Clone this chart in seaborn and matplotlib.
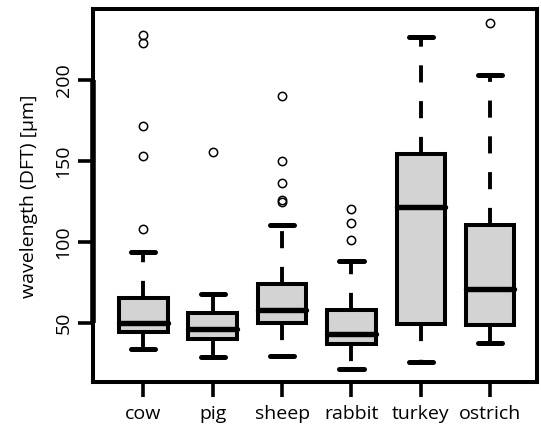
import pandas as pd
import seaborn as sns
import matplotlib
matplotlib.use("Agg")
import matplotlib.pyplot as plt

# values (R style boxplot)
species = ["cow", "pig", "sheep", "rabbit", "turkey", "ostrich"]
whisker_lo = [33.6, 29.0, 29.4, 21.6, 25.7, 37.5]
q1 = [44.4, 39.7, 50.0, 36.8, 49.2, 48.4]
median = [50.0, 46.3, 57.8, 43.2, 121.3, 70.8]
q3 = [65.5, 56.2, 74.2, 57.8, 154.1, 110.4]
whisker_hi = [93.7, 67.6, 110.3, 88.3, 226.4, 202.9]
outliers = [
    [107.7, 153.2, 171.8, 223.1, 227.8],
    [155.7],
    [124.5, 126.0, 136.5, 150.1, 190.3],
    [101.1, 111.4, 120.1],
    [],
    [235.4],
]
yticks = [50, 100, 150, 200]


## build a sample per species whose quartiles / whiskers give the stats above
## (n = 4k+1 so q1, median, q3 fall exactly on sample points)
rows = []
for i, sp in enumerate(species):
    k = len(outliers[i]) + 1
    vals = ([whisker_lo[i]] + [q1[i]] * k + [median[i]] * (2 * k - 1)
            + [q3[i]] * (k - len(outliers[i])) + [whisker_hi[i]] + outliers[i])
    for v in vals:
        rows.append({"species": sp, "wavelength": v})
df = pd.DataFrame(rows)

sns.set_style("ticks")
plt.rcParams["font.family"] = ["Open Sans", "DejaVu Sans"]

fig = plt.figure(figsize=(5.41, 4.30), dpi=100)
ax = fig.add_axes([0.1713, 0.1109, 0.8207, 0.8675])

sns.boxplot(data=df, x="species", y="wavelength", order=species, ax=ax,
            color="#D3D3D3", saturation=1, width=0.7, whis=1.5,
            linecolor="black", linewidth=2.9,
            boxprops=dict(edgecolor="black", linewidth=2.9),
            medianprops=dict(color="black", linewidth=3.9, solid_capstyle="round"),
            whiskerprops=dict(color="black", linewidth=2.8, linestyle=(0, (4.4, 4.8))),
            capprops=dict(color="black", linewidth=3.6, solid_capstyle="round"),
            flierprops=dict(marker="o", markerfacecolor="none",
                            markeredgecolor="black", markeredgewidth=1.1,
                            markersize=6.0))

ax.set_xlim(-0.73, 5.67)
ax.set_ylim(13.2, 243.7)
ax.set_yticks(yticks)
ax.set_xlabel("")
ax.set_ylabel("wavelength (DFT) [µm]", fontsize=14, labelpad=12, color="black")

for s in ax.spines.values():
    s.set_visible(True)
    s.set_linewidth(2.9)
    s.set_color("black")
# R axis line from first to last tick
ax.plot([-0.73, -0.73], [yticks[0], yticks[-1]], color="black", lw=4.0,
        solid_capstyle="butt", clip_on=False, zorder=5)

ax.tick_params(axis="both", length=10.5, width=2.6, color="black",
               labelsize=14, labelcolor="black")
ax.tick_params(axis="x", pad=6)
ax.tick_params(axis="y", pad=4, labelrotation=90)
for lab in ax.get_yticklabels():
    lab.set_va("center")

fig.savefig("out.png", dpi=100)
